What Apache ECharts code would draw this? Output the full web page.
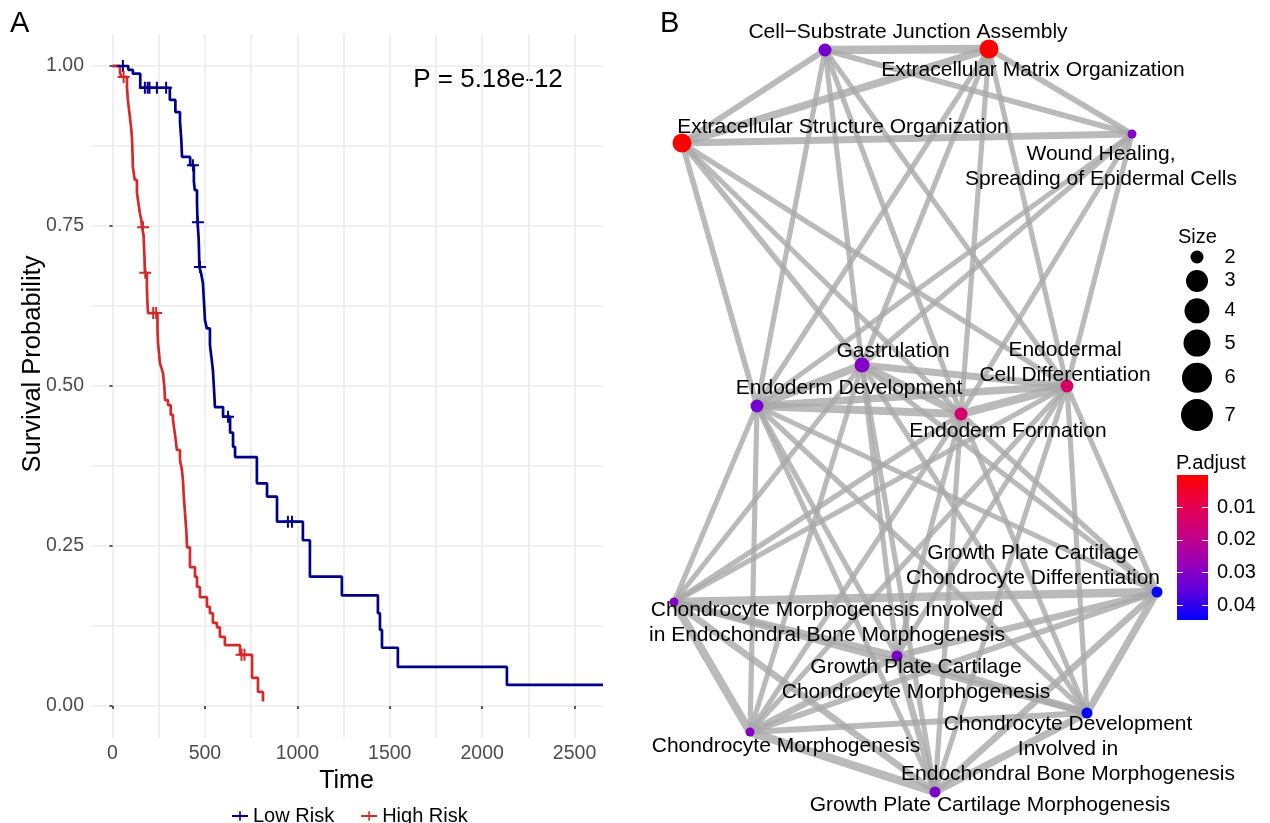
<!DOCTYPE html>
<html><head><meta charset="utf-8">
<script src="https://cdn.jsdelivr.net/npm/echarts@6/dist/echarts.min.js"></script>
<style>html,body{margin:0;padding:0;background:#fff}#c{width:1270px;height:823px}</style>
</head><body><div id="c"></div>
<script>
// ================= Panel A: Kaplan-Meier data =================
const lowRiskTime = [0,85,110,150,310,340,365,372,376,420,440,445,457,460,466,468,470,480,489,493,497,500,510,527,535,543,548,552,554,598,636,652,663,781,836,890,1030,1068,1241,1436,1447,1458,1544,2134,2654];
const lowRiskSurv = [1.0,0.994,0.988,0.966,0.947,0.928,0.913,0.885,0.858,0.845,0.820,0.806,0.786,0.756,0.730,0.710,0.686,0.675,0.661,0.640,0.620,0.603,0.590,0.564,0.545,0.525,0.500,0.480,0.467,0.452,0.427,0.405,0.389,0.348,0.327,0.288,0.259,0.202,0.173,0.145,0.119,0.091,0.061,0.033,0.033];
const lowCensorTime = [56,175,190,200,240,290,435,462,473,625,949,971];
const lowCensorSurv = [1.0,0.966,0.966,0.966,0.966,0.966,0.845,0.756,0.686,0.452,0.288,0.288];

const highRiskTime = [0,40,48,78,83,90,94,100,105,108,110,120,132,140,148,155,160,168,170,173,175,186,188,192,243,246,252,256,265,273,280,284,300,315,327,335,342,348,365,375,381,385,390,395,400,403,419,446,457,473,511,527,543,565,581,608,690,755,787,814];
const highRiskSurv = [1.0,0.990,0.983,0.967,0.947,0.930,0.920,0.905,0.889,0.865,0.842,0.822,0.802,0.786,0.770,0.760,0.748,0.735,0.720,0.700,0.677,0.655,0.635,0.614,0.590,0.567,0.550,0.536,0.528,0.520,0.500,0.478,0.470,0.455,0.447,0.430,0.415,0.400,0.384,0.370,0.353,0.330,0.310,0.290,0.270,0.248,0.217,0.202,0.186,0.170,0.155,0.145,0.130,0.123,0.108,0.095,0.080,0.044,0.022,0.007];
const highCensorTime = [60,165,177,220,236,698,714];
const highCensorSurv = [0.983,0.748,0.677,0.614,0.614,0.080,0.080];

const groupNames = ['Low Risk','High Risk'];
const xTickValues = [0,500,1000,1500,2000,2500];
const xGridValues = [0,250,500,750,1000,1250,1500,1750,2000,2250,2500];
const yTickValues = [0,0.25,0.5,0.75,1];
const yGridValues = [0,0.125,0.25,0.375,0.5,0.625,0.75,0.875,1];
const xRange = [-122, 2654];
const yRange = [-0.05, 1.05];
const pValueText = 'P = 5.18e-12';
const xTitle = 'Time';
const yTitle = 'Survival Probability';

// ================= Panel B: enrichment map data =================
const termLabels = [
  'Cell\u2212Substrate Junction Assembly',
  'Extracellular Matrix Organization',
  'Extracellular Structure Organization',
  'Wound Healing,\nSpreading of Epidermal Cells',
  'Gastrulation',
  'Endodermal\nCell Differentiation',
  'Endoderm Development',
  'Endoderm Formation',
  'Growth Plate Cartilage\nChondrocyte Differentiation',
  'Chondrocyte Morphogenesis Involved\nin Endochondral Bone Morphogenesis',
  'Growth Plate Cartilage\nChondrocyte Morphogenesis',
  'Chondrocyte Development\nInvolved in\nEndochondral Bone Morphogenesis',
  'Chondrocyte Morphogenesis',
  'Growth Plate Cartilage Morphogenesis'
];
// layout coordinates of the nodes
const termX = [825,989,682,1132,862,1067,757,961,1157,674,897,1087,750,935];
const termY = [50,49,143,134,365,386,406,414,592,602,656,713,732,792];
const termPadj = [0.032,0.0003,0.0003,0.030,0.030,0.014,0.032,0.015,0.044,0.030,0.031,0.044,0.030,0.031];
const termCount = [4,7,7,2,5,4,4,4,3,2,3,3,2,3];

const edgeSource = [0,0,0,1,1,2, 0,0,0,0,1,1,1,1,2,2,2,2,3,3,3,3, 4,4,4,5,5,6, 4,4,4,4,4,4,5,5,5,5,5,5,6,6,6,6,6,6,7,7,7,7,7,7, 8,8,8,8,8,9,9,9,9,10,10,10,11,11,12];
const edgeTarget = [1,2,3,2,3,3, 4,5,6,7,4,5,6,7,4,5,6,7,4,5,6,7, 5,6,7,6,7,7, 8,9,10,11,12,13,8,9,10,11,12,13,8,9,10,11,12,13,8,9,10,11,12,13, 9,10,11,12,13,10,11,12,13,11,12,13,12,13,13];
const edgeSimilarity = [0.75,0.45,0.40,0.65,0.40,0.55, 0.35,0.35,0.35,0.35,0.35,0.35,0.35,0.35,0.40,0.35,0.40,0.35,0.35,0.35,0.35,0.35, 0.55,0.65,0.65,0.60,0.70,0.65, 0.35,0.35,0.35,0.35,0.35,0.35,0.35,0.35,0.35,0.35,0.35,0.35,0.35,0.35,0.35,0.35,0.35,0.35,0.35,0.35,0.35,0.35,0.35,0.35, 0.75,0.50,0.60,0.45,0.50,0.50,0.45,0.70,0.50,0.60,0.50,0.50,0.45,0.60,0.70];

const sizeLegendValues = [2,3,4,5,6,7];
const padjTicks = [0.01,0.02,0.03,0.04];
const padjRange = [0.00025, 0.0444];

// ================= styles =================
const FONT = "'Liberation Sans', Arial, Helvetica, sans-serif";
const BLUE = '#00008B', RED = '#D42A2C';
const PLUS = 'path://M5,0h2v5h5v2h-5v5h-2v-5h-5v-2h5z';
const padjColors = ['#FF0000','#E8004C','#C80080','#9A00B6','#5E00DE','#0000FF'];
const labelOffset = [[83,-18],[44,21],[161,-16],[-31,33],[31,-14],[-2,-23],[92,-18],[47,17],[-124,-26],[153,21],[19,24],[-19,36],[36,14],[55,13]];
const nodeDiameter = c => 5 + 2 * c;
const legendDiameter = [13,22,25,27,30,32];
const legendGap = 7;
const legendOffsets = [];
legendDiameter.forEach((d,i)=>{ legendOffsets.push(i===0?0:legendOffsets[i-1]+(legendDiameter[i-1]+d)/2+legendGap); });
const padjColor = v => echarts.color.lerp((v - padjRange[0]) / (padjRange[1] - padjRange[0]), padjColors);

const chart = echarts.init(document.getElementById('c'), null, {renderer:'canvas'});
const gridColor = '#EBEBEB';
const tickLabel = {color:'#4D4D4D', fontSize:19.5, fontFamily:FONT};

const option = {
  animation:false,
  backgroundColor:'#fff',
  textStyle:{fontFamily:FONT},
  grid:[
    {left:90, top:34, width:513, height:704},
    {left:640, top:0, width:630, height:823},
    {left:1190, top:257, width:14, height:158},
    {left:1177, top:475, width:31, height:145}
  ],
  xAxis:[
    {gridIndex:0, type:'value', min:xRange[0], max:xRange[1],
     name:xTitle, nameLocation:'middle', nameGap:25, nameTextStyle:{fontSize:25, color:'#000', fontFamily:FONT},
     axisLine:{show:false}, axisTick:{show:false, customValues:xGridValues},
     axisLabel:Object.assign({customValues:xTickValues, margin:6, formatter:v=>String(v)}, tickLabel),
     splitLine:{show:true, lineStyle:{color:gridColor, width:1.6}}},
    {gridIndex:0, type:'value', min:xRange[0], max:xRange[1], position:'bottom',
     axisLine:{show:false}, axisTick:{show:true, customValues:xTickValues, length:3, lineStyle:{color:'#333', width:1.6}},
     axisLabel:{show:false}, splitLine:{show:false}},
    {gridIndex:1, type:'value', min:640, max:1270, show:false},
    {gridIndex:2, type:'value', min:-1, max:1, show:false},
    {gridIndex:3, type:'category', data:['P.adjust'], show:false}
  ],
  yAxis:[
    {gridIndex:0, type:'value', min:yRange[0], max:yRange[1],
     axisLine:{show:false}, axisTick:{show:false, customValues:yGridValues},
     axisLabel:Object.assign({customValues:yTickValues, margin:6, formatter:v=>Number(v).toFixed(2)}, tickLabel),
     splitLine:{show:true, lineStyle:{color:gridColor, width:1.6}}},
    {gridIndex:0, type:'value', min:yRange[0], max:yRange[1], position:'left',
     axisLine:{show:false}, axisTick:{show:true, customValues:yTickValues, length:3, lineStyle:{color:'#333', width:1.6}},
     axisLabel:{show:false}, splitLine:{show:false}},
    {gridIndex:1, type:'value', min:0, max:823, inverse:true, show:false},
    {gridIndex:2, type:'value', min:0, max:legendOffsets[legendOffsets.length-1], inverse:true, show:false},
    {gridIndex:3, type:'value', min:padjRange[0], max:padjRange[1], inverse:true, position:'left', z:5,
     axisLine:{show:false}, axisTick:{show:true, inside:true, length:6, customValues:padjTicks, lineStyle:{color:'#fff', width:1}},
     axisLabel:{show:false}, splitLine:{show:false}},
    {gridIndex:3, type:'value', min:padjRange[0], max:padjRange[1], inverse:true, position:'right', z:5,
     axisLine:{show:false}, axisTick:{show:true, inside:true, length:6, customValues:padjTicks, lineStyle:{color:'#fff', width:1}},
     axisLabel:{show:true, customValues:padjTicks, margin:9, color:'#000', fontSize:20, fontFamily:FONT, formatter:v=>Number(v).toFixed(2)},
     splitLine:{show:false}}
  ],
  legend:{
    data:groupNames, left:226, top:801, itemGap:26, itemWidth:16, itemHeight:12,
    textStyle:{fontSize:20, color:'#000', fontFamily:FONT}
  },
  graphic:[
    {type:'text', left:10, top:9, style:{text:'A', fontSize:29, fontFamily:FONT, fill:'#000'}},
    {type:'text', left:660, top:9, style:{text:'B', fontSize:29, fontFamily:FONT, fill:'#000'}},
    {type:'text', x:488, y:80, style:{text:pValueText, fontSize:26, fontFamily:FONT, fill:'#000', align:'center', verticalAlign:'middle'}},
    {type:'text', x:33, y:364, rotation:Math.PI/2, style:{text:yTitle, fontSize:25.5, fontFamily:FONT, fill:'#000', align:'center', verticalAlign:'middle'}},
    {type:'text', x:1178, y:237, style:{text:'Size', fontSize:20, fontFamily:FONT, fill:'#000', align:'left', verticalAlign:'middle'}},
    {type:'text', x:1176, y:463, style:{text:'P.adjust', fontSize:20, fontFamily:FONT, fill:'#000', align:'left', verticalAlign:'middle'}}
  ],
  series:[
    {name:groupNames[0], type:'line', step:'end', xAxisIndex:0, yAxisIndex:0,
     data:lowRiskTime.map((t,i)=>[t, lowRiskSurv[i]]),
     symbol:PLUS, symbolSize:12, showSymbol:false, color:BLUE,
     lineStyle:{color:BLUE, width:2.7}, itemStyle:{color:BLUE}, z:3},
    {name:groupNames[1], type:'line', step:'end', xAxisIndex:0, yAxisIndex:0,
     data:highRiskTime.map((t,i)=>[t, highRiskSurv[i]]),
     symbol:PLUS, symbolSize:12, showSymbol:false, color:RED,
     lineStyle:{color:RED, width:2.7}, itemStyle:{color:RED}, z:3},
    {name:'lowCensor', type:'scatter', xAxisIndex:0, yAxisIndex:0,
     data:lowCensorTime.map((t,i)=>[t, lowCensorSurv[i]]),
     symbol:PLUS, symbolSize:12, itemStyle:{color:BLUE, opacity:1}, z:4},
    {name:'highCensor', type:'scatter', xAxisIndex:0, yAxisIndex:0,
     data:highCensorTime.map((t,i)=>[t, highCensorSurv[i]]),
     symbol:PLUS, symbolSize:12, itemStyle:{color:RED, opacity:1}, z:4},
    {name:'emap', type:'graph', coordinateSystem:'cartesian2d', xAxisIndex:2, yAxisIndex:2,
     layout:'none', roam:false, symbol:'circle',
     data:termLabels.map((lab,i)=>({
       name:'t'+i, value:[termX[i], termY[i]],
       symbolSize:nodeDiameter(termCount[i]),
       itemStyle:{color:padjColor(termPadj[i]), opacity:1},
       label:{show:true, formatter:lab, offset:labelOffset[i]}
     })),
     links:edgeSource.map((s,i)=>({source:s, target:edgeTarget[i], lineStyle:{width:2+9*edgeSimilarity[i]}})),
     lineStyle:{color:'#A9A9A9', opacity:0.8, curveness:0},
     label:{show:true, position:'inside', color:'#000', fontSize:21, lineHeight:25, fontFamily:FONT, align:'center', verticalAlign:'middle'},
     emphasis:{disabled:true}, z:2},
    {name:'sizeLegend', type:'scatter', xAxisIndex:3, yAxisIndex:3,
     data:sizeLegendValues.map((v,i)=>[0, legendOffsets[i], v]),
     symbolSize:(val,p)=>legendDiameter[p.dataIndex], clip:false,
     itemStyle:{color:'#000', opacity:1},
     label:{show:true, position:'inside', offset:[33,0], formatter:p=>String(p.value[2]), color:'#000', fontSize:20, fontFamily:FONT}},
    {name:'padjBar', type:'bar', xAxisIndex:4, yAxisIndex:4,
     data:[padjRange[1]], barWidth:'100%', clip:true, z:1,
     itemStyle:{color:new echarts.graphic.LinearGradient(0,0,0,1, padjColors.map((c,i)=>({offset:i/(padjColors.length-1), color:c})))}}
  ]
};
chart.setOption(option);
</script></body></html>
